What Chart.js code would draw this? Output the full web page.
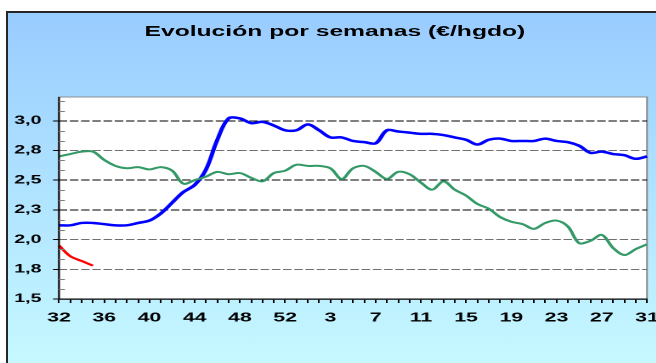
<!DOCTYPE html>
<html lang="es">
<head>
<meta charset="utf-8">
<title>Evolución por semanas</title>
<script src="https://cdn.jsdelivr.net/npm/chart.js@4.4.1/dist/chart.umd.min.js"></script>
<style>
  html, body { margin: 0; padding: 0; width: 656px; height: 363px; overflow: hidden; background: #fff; }
  #marco {
    position: absolute; left: 6px; top: 11px; width: 700px; height: 400px;
    border: 2px solid #262626;
    background: linear-gradient(to bottom, #99ccff 0%, #ccffff 100%);
  }
  /* the chart is drawn narrow and stretched sideways, like the old spreadsheet export */
  #lienzo { position: absolute; left: 0; top: 0; width: 390px; height: 363px; transform: scaleX(1.7); transform-origin: 0 0; }
  #lienzo canvas { position: absolute; left: 0; top: 0; }
  #titulo {
    position: absolute; left: 0; top: 23px; width: 394px;
    text-align: center; white-space: nowrap;
    font: bold 14.5px/17.4px 'Liberation Sans', Arial, sans-serif; color: #000;
  }
</style>
</head>
<body>
<div id="marco"></div>
<div id="lienzo">
  <div id="titulo">Evolución por semanas (€/hgdo)</div>
  <canvas id="grafico" width="390" height="363"></canvas>
</div>
<script>
const semanas = [32, 33, 34, 35, 36, 37, 38, 39, 40, 41, 42, 43, 44, 45, 46, 47, 48, 49, 50, 51, 52, 53,
  1, 2, 3, 4, 5, 6, 7, 8, 9, 10, 11, 12, 13, 14, 15, 16, 17, 18, 19, 20, 21, 22, 23, 24, 25, 26, 27, 28, 29, 30, 31];

// €/hgdo por semana
const temporadaActual = [2.12, 2.12, 2.14, 2.14, 2.13, 2.12, 2.12, 2.14, 2.16, 2.22,
  2.31, 2.40, 2.46, 2.59, 2.84, 3.02, 3.02, 2.98, 2.99, 2.96,
  2.92, 2.92, 2.97, 2.92, 2.86, 2.86, 2.83, 2.82, 2.81, 2.92,
  2.91, 2.90, 2.89, 2.89, 2.88, 2.86, 2.84, 2.80, 2.84, 2.85,
  2.83, 2.83, 2.83, 2.85, 2.83, 2.82, 2.79, 2.73, 2.74, 2.72,
  2.71, 2.68, 2.70];
const temporadaPasada = [2.70, 2.72, 2.74, 2.74, 2.67, 2.62, 2.60, 2.61, 2.59, 2.61,
  2.58, 2.47, 2.50, 2.53, 2.57, 2.55, 2.56, 2.52, 2.49, 2.56,
  2.58, 2.63, 2.62, 2.62, 2.60, 2.51, 2.60, 2.62, 2.57, 2.51,
  2.57, 2.55, 2.48, 2.42, 2.49, 2.42, 2.37, 2.30, 2.26, 2.19,
  2.15, 2.13, 2.09, 2.14, 2.16, 2.11, 1.97, 1.99, 2.04, 1.93,
  1.87, 1.92, 1.96];
const temporadaNueva = [1.95, 1.86, 1.82, 1.78];

const yTicks = [1.5, 1.75, 2, 2.25, 2.5, 2.75, 3];
const yTickLabels = ['1,5', '1,8', '2,0', '2,3', '2,5', '2,8', '3,0'];

Chart.defaults.font.family = "'Liberation Sans', Arial, sans-serif";
Chart.defaults.color = '#000';

// white plot area with a grey frame
const fondoGrafico = {
    id: 'fondoGrafico',
    beforeDraw(chart) {
        const { ctx, chartArea: a } = chart;
        ctx.save();
        ctx.fillStyle = '#fff';
        ctx.fillRect(a.left, a.top, a.width, a.height);
        ctx.strokeStyle = '#8c8c8c';
        ctx.lineWidth = 1;
        ctx.strokeRect(a.left, a.top, a.width, a.height);
        ctx.restore();
    }
};

// value axis line plus the small inner marks between the labelled ticks
const marcasMenores = {
    id: 'marcasMenores',
    afterDraw(chart) {
        const { ctx, chartArea: a, scales: { y } } = chart;
        ctx.save();
        ctx.strokeStyle = '#000';
        ctx.lineWidth = 1;
        ctx.beginPath();
        ctx.moveTo(a.left, a.top);
        ctx.lineTo(a.left, a.bottom);
        ctx.stroke();

        ctx.strokeStyle = '#808080';
        const paso = (yTicks[1] - yTicks[0]) / 3;
        for (let k = 1; yTicks[0] + k * paso < y.max; k++) {
            if (k % 3 === 0) continue;
            const py = Math.round(y.getPixelForValue(yTicks[0] + k * paso)) + 0.5;
            ctx.beginPath();
            ctx.moveTo(a.left, py);
            ctx.lineTo(a.left + 3.5, py);
            ctx.stroke();
        }
        ctx.restore();
    }
};

const negrita = (size) => ({ size: size, weight: 'bold' });

new Chart(document.getElementById('grafico'), {
    type: 'line',
    data: {
        labels: semanas,
        datasets: [
            { data: temporadaPasada, borderColor: '#339966', borderWidth: 2 },
            { data: temporadaActual, borderColor: '#0000ff', borderWidth: 2.5 },
            { data: temporadaNueva, borderColor: '#ff0000', borderWidth: 2 }
        ]
    },
    options: {
        responsive: false,
        devicePixelRatio: 2,
        animation: false,
        layout: { padding: { left: 0, right: 9.4, top: 97, bottom: 24 } },
        elements: {
            point: { radius: 0 },
            line: { tension: 0.35, fill: false }
        },
        plugins: {
            legend: { display: false },
            tooltip: { enabled: false },
            title: { display: false }
        },
        scales: {
            x: {
                type: 'category',
                offset: false,
                grid: {
                    drawOnChartArea: false,
                    drawTicks: true,
                    tickLength: 4,
                    color: '#000',
                    tickColor: '#000'
                },
                border: { display: true, color: '#000', width: 1.3 },
                ticks: {
                    autoSkip: false,
                    maxRotation: 0,
                    minRotation: 0,
                    padding: 7.5,
                    color: '#000',
                    font: negrita(12.5),
                    callback: (val, i) => (i % 4 === 0 ? semanas[i] : '')
                },
                afterFit(scale) {
                    scale.height = 40;
                    scale.paddingLeft = 0;
                    scale.paddingRight = 0;
                }
            },
            y: {
                min: 1.5,
                max: 3.2,
                afterBuildTicks(scale) {
                    scale.ticks = yTicks.map(v => ({ value: v }));
                },
                grid: {
                    color: (ctx) => {
                        const v = ctx.tick ? ctx.tick.value : null;
                        if (v === 1.5) return 'rgba(0,0,0,0)';
                        return [3, 2.5, 2.25].includes(v) ? '#000' : '#707070';
                    },
                    lineWidth: 1,
                    drawTicks: true,
                    tickLength: 3.5,
                    tickColor: '#000',
                    tickWidth: 1
                },
                border: { display: false, dash: [5, 1.6] },
                ticks: {
                    padding: 6.8,
                    color: '#000',
                    font: negrita(11.5),
                    callback: (v) => {
                        const i = yTicks.indexOf(v);
                        return i >= 0 ? yTickLabels[i] : '';
                    }
                },
                afterFit(scale) {
                    scale.width = 34.7;
                    scale.paddingTop = 0;
                    scale.paddingBottom = 0;
                }
            }
        }
    },
    plugins: [fondoGrafico, marcasMenores]
});
</script>
</body>
</html>
